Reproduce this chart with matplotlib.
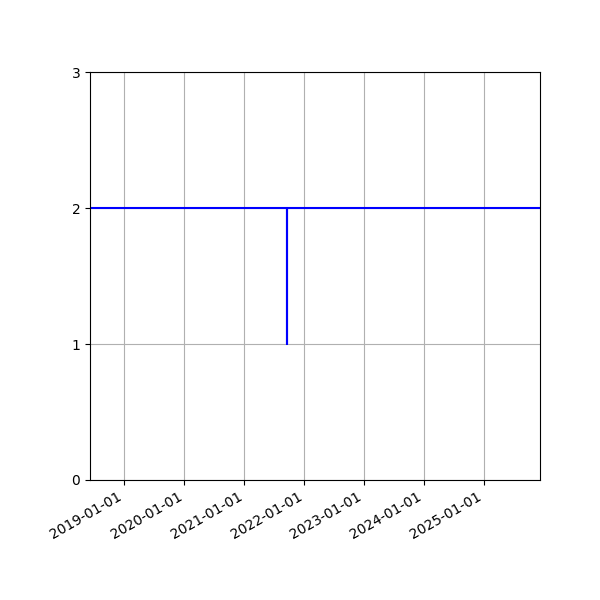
import numpy as np
import pandas as pd
import matplotlib
matplotlib.use('Agg')
import matplotlib.pyplot as plt
import matplotlib.dates as mdates

# single series with a one-day dip at ~2021-09-18
fechas = pd.to_datetime(['2018-06-05', '2021-09-18', '2021-09-18',
                         '2021-09-18', '2025-12-07'])
valores = [2, 2, 1, 2, 2]
ticks_x = pd.to_datetime([f'{a}-01-01' for a in range(2019, 2026)])

fig, ax = plt.subplots(figsize=(6, 6), dpi=100)
ax.plot(fechas, valores, color='blue', lw=1.5)
ax.set_xlim(fechas[0], fechas[-1])
ax.set_ylim(0, 3)
ax.set_yticks([0, 1, 2, 3])
ax.set_xticks(ticks_x)
ax.xaxis.set_major_formatter(mdates.DateFormatter('%Y-%m-%d'))
ax.grid(True, color='#b0b0b0')
fig.autofmt_xdate()
fig.subplots_adjust(left=0.15, right=0.9, top=0.88, bottom=0.2)
fig.savefig('out.png', dpi=100)
